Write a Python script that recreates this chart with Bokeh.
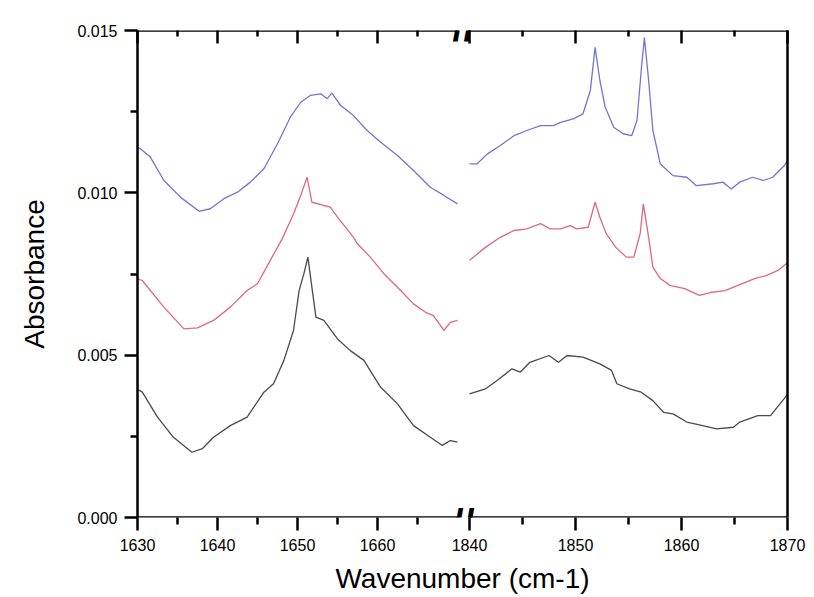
from bokeh.plotting import figure
from bokeh.models import Range1d, LinearAxis, FixedTicker, NumeralTickFormatter
from bokeh.embed import file_html
from bokeh.resources import INLINE

# ---- spectra (wavenumber in cm-1, absorbance) ----
blue_left_x = [1630.0, 1630.4, 1631.6, 1633.3, 1635.4, 1637.7, 1639.1, 1640.8, 1642.5, 1644.1, 1645.8,
               1647.5, 1649.1, 1650.4, 1651.6, 1652.9, 1653.7, 1654.3, 1655.4, 1657.0, 1658.7, 1660.4,
               1662.5, 1664.5, 1666.6, 1668.3, 1670.0]
blue_left_y = [0.01140, 0.01135, 0.01110, 0.01038, 0.00986, 0.00943, 0.00951, 0.00982, 0.01002, 0.01033, 0.01074,
               0.01151, 0.01233, 0.01279, 0.01300, 0.01305, 0.01290, 0.01307, 0.01269, 0.01238, 0.01192, 0.01156,
               0.01115, 0.01069, 0.01017, 0.00992, 0.00966]

red_left_x = [1630.0, 1630.6, 1633.3, 1635.8, 1637.5, 1639.5, 1641.6, 1643.7, 1645.0, 1646.6, 1648.1,
              1649.5, 1650.4, 1651.2, 1651.8, 1653.3, 1654.1, 1655.0, 1657.0, 1657.5, 1659.1, 1660.8,
              1662.5, 1664.5, 1666.0, 1667.0, 1668.3, 1669.1, 1670.0]
red_left_y = [0.00735, 0.00730, 0.00648, 0.00581, 0.00584, 0.00607, 0.00648, 0.00699, 0.00720, 0.00792, 0.00859,
              0.00935, 0.00992, 0.01048, 0.00971, 0.00961, 0.00956, 0.00925, 0.00863, 0.00843, 0.00802, 0.00751,
              0.00709, 0.00658, 0.00632, 0.00622, 0.00576, 0.00601, 0.00607]

black_left_x = [1630.0, 1630.6, 1632.5, 1634.5, 1636.8, 1638.1, 1639.5, 1641.6, 1643.7, 1645.8, 1647.0,
                1648.3, 1649.5, 1650.2, 1650.8, 1651.3, 1651.8, 1652.3, 1653.3, 1655.0, 1656.6, 1658.3,
                1660.4, 1662.5, 1664.5, 1666.6, 1668.1, 1669.1, 1670.0]
black_left_y = [0.00395, 0.00386, 0.00309, 0.00247, 0.00201, 0.00212, 0.00247, 0.00283, 0.00309, 0.00386, 0.00412,
                0.00484, 0.00576, 0.00699, 0.00751, 0.00802, 0.00709, 0.00617, 0.00607, 0.00550, 0.00514, 0.00484,
                0.00401, 0.00350, 0.00283, 0.00247, 0.00222, 0.00237, 0.00232]

blue_right_x = [1840.0, 1840.7, 1841.7, 1842.9, 1844.2, 1845.4, 1846.7, 1847.9, 1848.6, 1849.8, 1850.7, 1851.4,
                1851.85, 1852.3, 1852.8, 1853.6, 1854.5, 1855.3, 1855.8, 1856.2, 1856.5, 1856.9, 1857.3, 1858.0,
                1859.2, 1860.5, 1861.4, 1863.0, 1863.9, 1864.7, 1865.5, 1866.7, 1867.7, 1868.6, 1869.7, 1870.0]
blue_right_y = [0.01089, 0.01089, 0.01120, 0.01146, 0.01176, 0.01192, 0.01207, 0.01207, 0.01217, 0.01228, 0.01243, 0.01315,
                0.01448, 0.01346, 0.01264, 0.01202, 0.01182, 0.01176, 0.01223, 0.01377, 0.01478, 0.01346, 0.01192, 0.01089,
                0.01053, 0.01048, 0.01022, 0.01028, 0.01033, 0.01012, 0.01033, 0.01048, 0.01038, 0.01048, 0.01084, 0.01100]

red_right_x = [1840.0, 1841.5, 1842.9, 1844.2, 1845.4, 1846.7, 1847.6, 1848.6, 1849.5, 1850.1, 1851.2,
               1851.85, 1852.3, 1852.9, 1853.8, 1854.8, 1855.5, 1856.1, 1856.4, 1856.9, 1857.3, 1858.0,
               1858.9, 1860.3, 1861.7, 1862.7, 1864.1, 1865.8, 1866.9, 1868.0, 1869.1, 1870.0]
red_right_y = [0.00792, 0.00832, 0.00863, 0.00884, 0.00889, 0.00905, 0.00889, 0.00889, 0.00899, 0.00889, 0.00894,
               0.00971, 0.00925, 0.00874, 0.00832, 0.00802, 0.00802, 0.00874, 0.00966, 0.00863, 0.00771, 0.00736,
               0.00715, 0.00705, 0.00684, 0.00693, 0.00699, 0.00721, 0.00736, 0.00745, 0.00761, 0.00785]

black_right_x = [1840.0, 1841.5, 1842.6, 1844.0, 1844.8, 1845.7, 1847.5, 1848.4, 1849.2, 1850.7, 1852.3,
                 1853.4, 1853.9, 1855.1, 1856.2, 1857.3, 1858.3, 1859.2, 1860.5, 1862.0, 1863.3, 1864.9,
                 1865.5, 1867.2, 1868.4, 1869.8, 1870.0]
black_right_y = [0.00381, 0.00396, 0.00422, 0.00458, 0.00448, 0.00478, 0.00499, 0.00478, 0.00499, 0.00494, 0.00473,
                 0.00453, 0.00412, 0.00396, 0.00386, 0.00360, 0.00324, 0.00319, 0.00294, 0.00283, 0.00273, 0.00278,
                 0.00294, 0.00314, 0.00314, 0.00371, 0.00380]

# ---- axis ticks ----
left_major = [1630, 1640, 1650, 1660]
left_minor = [1635, 1645, 1655, 1665]
right_major = [1840, 1850, 1860, 1870]
right_minor = [1845, 1855, 1865]
y_major = [0.0, 0.005, 0.010, 0.015]
y_minor = [0.0025, 0.0075, 0.0125]

# ---- broken x axis geometry (pixels along the frame) ----
LEFT_LO, LEFT_HI = 1630, 1670
RIGHT_LO, RIGHT_HI = 1840, 1870
LEFT_SCALE = 8.0      # px per cm-1, left segment
RIGHT_SCALE = 10.6    # px per cm-1, right segment
GAP = 12              # px between the segments
LEFT_W = (LEFT_HI - LEFT_LO) * LEFT_SCALE
RIGHT_START = LEFT_W + GAP
FRAME_W = RIGHT_START + (RIGHT_HI - RIGHT_LO) * RIGHT_SCALE
BREAK_X = int(round((LEFT_W + RIGHT_START) / 2))


def axis_pos(w):
    if w <= LEFT_HI:
        return int(round((w - LEFT_LO) * LEFT_SCALE))
    return int(round(RIGHT_START + (w - RIGHT_LO) * RIGHT_SCALE))


FONT = "Liberation Sans"
AXIS_W = 2.5

p = figure(width=814, height=597, output_backend="svg", toolbar_location=None, title=None,
           x_range=Range1d(0, FRAME_W), y_range=Range1d(y_major[0], y_major[-1]),
           x_axis_location=None, y_axis_location=None,
           min_border_left=137, min_border_right=814 - 137 - int(FRAME_W),
           min_border_top=30, min_border_bottom=80)
p.outline_line_color = None
p.grid.grid_line_color = None
p.background_fill_color = "white"
p.border_fill_color = "white"

p.extra_x_ranges = {
    "lo": Range1d(LEFT_LO, LEFT_LO + FRAME_W / LEFT_SCALE),
    "hi": Range1d(RIGHT_LO - RIGHT_START / RIGHT_SCALE, RIGHT_HI),
}

x_ticks = [axis_pos(w) for w in left_major + right_major]
x_minor = [axis_pos(w) for w in left_minor + right_minor]
x_labels = {axis_pos(w): str(w) for w in left_major + right_major}


def style_axis(ax):
    ax.axis_line_width = AXIS_W
    ax.axis_line_color = "black"
    ax.major_tick_line_width = AXIS_W
    ax.minor_tick_line_width = AXIS_W
    ax.major_tick_line_color = "black"
    ax.minor_tick_line_color = "black"
    ax.major_label_text_font = FONT
    ax.major_label_text_font_size = "16px"
    ax.major_label_text_color = "black"
    ax.axis_label_text_font = FONT
    ax.axis_label_text_font_size = "28px"
    ax.axis_label_text_font_style = "normal"
    ax.axis_label_text_color = "black"


# bottom: ticks, labels and title (its line is drawn in two pieces below)
bottom = LinearAxis(ticker=FixedTicker(ticks=x_ticks, minor_ticks=x_minor),
                    major_label_overrides=x_labels, axis_label="Wavenumber (cm-1)")
style_axis(bottom)
bottom.axis_line_color = None
bottom.major_tick_in = 0
bottom.major_tick_out = 13
bottom.minor_tick_in = 0
bottom.minor_tick_out = 7
bottom.major_label_standoff = 8
bottom.axis_label_standoff = 9
p.add_layout(bottom, "below")

# top: inward ticks only
top = LinearAxis(ticker=FixedTicker(ticks=x_ticks, minor_ticks=x_minor))
style_axis(top)
top.axis_line_color = None
top.major_tick_in = 13
top.major_tick_out = 0
top.minor_tick_in = 6
top.minor_tick_out = 0
top.major_label_text_color = None
top.major_label_text_font_size = "1px"
top.major_label_standoff = 0
p.add_layout(top, "above")

left = LinearAxis(ticker=FixedTicker(ticks=y_major, minor_ticks=y_minor),
                  formatter=NumeralTickFormatter(format="0.000"), axis_label="Absorbance")
style_axis(left)
left.major_tick_in = 0
left.major_tick_out = 13
left.minor_tick_in = 0
left.minor_tick_out = 7
left.major_label_standoff = 7
left.axis_label_standoff = 24
p.add_layout(left, "left")

right = LinearAxis(ticker=FixedTicker(ticks=[]))
style_axis(right)
right.major_tick_in = 0
right.major_tick_out = 0
right.minor_tick_in = 0
right.minor_tick_out = 0
right.major_label_text_color = None
right.major_label_standoff = 0
p.add_layout(right, "right")

# frame lines of the broken x axis: one piece per segment, top and bottom,
# with a "//" break mark centred on each line
for side, yloc, mark_shift in (("below", y_major[0], -22), ("above", y_major[-1], -32)):
    for lo, hi in ((0, BREAK_X - 5), (BREAK_X + 5, FRAME_W)):
        seg = LinearAxis(ticker=FixedTicker(ticks=[]), fixed_location=yloc, bounds=(lo, hi))
        seg.axis_line_width = AXIS_W
        seg.axis_line_color = "black"
        seg.major_tick_line_color = None
        seg.minor_tick_line_color = None
        seg.major_label_text_color = None
        p.add_layout(seg, side)

    brk = LinearAxis(ticker=FixedTicker(ticks=[BREAK_X]), fixed_location=yloc,
                     major_label_overrides={BREAK_X: "//"})
    brk.axis_line_color = None
    brk.major_tick_line_color = None
    brk.minor_tick_line_color = None
    brk.major_label_text_font = FONT
    brk.major_label_text_font_size = "40px"
    brk.major_label_text_font_style = "bold"
    brk.major_label_text_color = "black"
    brk.major_label_standoff = mark_shift
    p.add_layout(brk, "below")

# ---- spectra ----
BLUE = "#7474d6"
RED = "#e0687e"
GREY = "#4a4a4a"
LW = 1.3
for xs, ys, c in [(blue_left_x, blue_left_y, BLUE), (red_left_x, red_left_y, RED),
                  (black_left_x, black_left_y, GREY)]:
    p.line(xs, ys, x_range_name="lo", line_color=c, line_width=LW)
for xs, ys, c in [(blue_right_x, blue_right_y, BLUE), (red_right_x, red_right_y, RED),
                  (black_right_x, black_right_y, GREY)]:
    p.line(xs, ys, x_range_name="hi", line_color=c, line_width=LW)

open("out.html", "w").write(file_html(p, INLINE))
